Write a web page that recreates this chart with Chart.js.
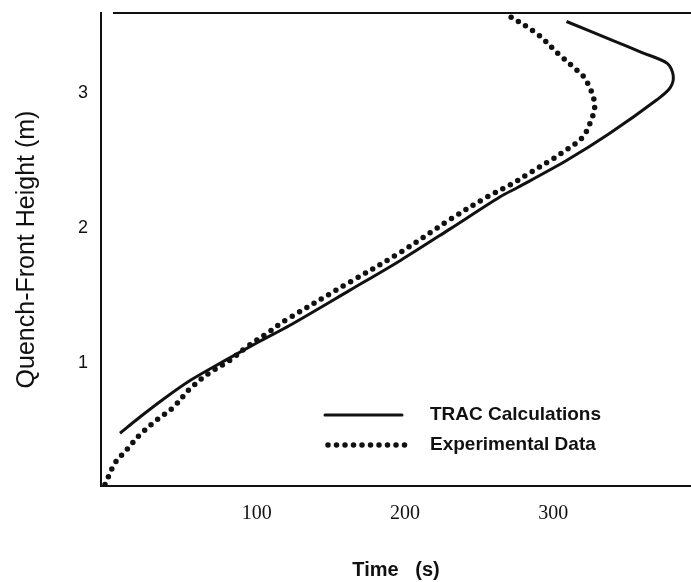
<!DOCTYPE html>
<html>
<head>
<meta charset="utf-8">
<script src="https://cdn.jsdelivr.net/npm/chart.js@4.4.1/dist/chart.umd.min.js"></script>
<style>
  html, body { margin: 0; padding: 0; background: #fff; }
  #wrap { width: 691px; height: 582px; position: relative; }
</style>
</head>
<body>
<div id="wrap"><canvas id="chart"></canvas></div>
<script>
// values (time in s, height in m)
const tracTime = [7.8, 21.3, 36.8, 55.1, 77.3, 100.3, 122.5, 163, 197, 230, 264, 276, 309, 338, 370, 379, 381, 377, 360, 340, 309];
const tracHeight = [0.48, 0.60, 0.73, 0.87, 1.01, 1.15, 1.28, 1.54, 1.76, 1.99, 2.23, 2.30, 2.50, 2.70, 2.95, 3.04, 3.13, 3.22, 3.30, 3.39, 3.53];

const expTime = [-2.3, 1.1, 4.4, 12.5, 21.3, 32.8, 43.6, 55.1, 68.5, 82, 93.5, 107, 120, 163, 197, 230, 255.5, 271, 284.5, 298, 309, 319.6, 325, 328, 322, 316, 304.5, 289, 267.6];
const expHeight = [0.10, 0.185, 0.26, 0.36, 0.47, 0.58, 0.67, 0.81, 0.93, 1.02, 1.12, 1.22, 1.32, 1.60, 1.82, 2.06, 2.23, 2.32, 2.41, 2.50, 2.58, 2.67, 2.78, 2.92, 3.10, 3.17, 3.28, 3.44, 3.59];

const xTicks = [100, 200, 300];
const yTicks = [1, 2, 3];

const seriesLabels = ['TRAC Calculations', 'Experimental Data'];

const toPoints = (xs, ys) => xs.map((x, i) => ({ x: x, y: ys[i] }));

const ink = '#111';
const dotDash = [0, 8.5];

// top rule + legend drawn inside the plot
const extras = {
  id: 'extras',
  afterDraw(chart) {
    const ctx = chart.ctx;
    const area = chart.chartArea;
    ctx.save();
    ctx.strokeStyle = ink;
    ctx.lineWidth = 2;
    ctx.beginPath();
    ctx.moveTo(area.left + 12, area.top);
    ctx.lineTo(area.right, area.top);
    ctx.stroke();

    // legend
    ctx.font = 'bold 19px "Liberation Sans", Arial, sans-serif';
    ctx.fillStyle = ink;
    ctx.textBaseline = 'middle';
    ctx.lineCap = 'round';

    ctx.lineWidth = 3;
    ctx.beginPath();
    ctx.moveTo(325, 415);
    ctx.lineTo(402, 415);
    ctx.stroke();
    ctx.fillText(seriesLabels[0], 430, 415);

    ctx.lineWidth = 5.5;
    ctx.setLineDash(dotDash);
    ctx.beginPath();
    ctx.moveTo(328, 445);
    ctx.lineTo(405, 445);
    ctx.stroke();
    ctx.setLineDash([]);
    ctx.fillText(seriesLabels[1], 430, 445);
    ctx.restore();
  }
};

new Chart(document.getElementById('chart'), {
  type: 'scatter',
  data: {
    datasets: [
      {
        label: seriesLabels[0],
        data: toPoints(tracTime, tracHeight),
        showLine: true,
        borderColor: ink,
        borderWidth: 3,
        pointRadius: 0,
        tension: 0.3,
      },
      {
        label: seriesLabels[1],
        data: toPoints(expTime, expHeight),
        showLine: true,
        borderColor: ink,
        borderWidth: 5.5,
        borderDash: dotDash,
        borderCapStyle: 'round',
        pointRadius: 0,
        tension: 0.35,
      },
    ],
  },
  options: {
    responsive: true,
    maintainAspectRatio: false,
    animation: false,
    layout: { padding: { top: 13, right: 0, left: 0, bottom: 0 } },
    plugins: {
      legend: { display: false },
      tooltip: { enabled: false },
    },
    scales: {
      x: {
        type: 'linear',
        min: -5,
        max: 393,
        afterBuildTicks: (axis) => { axis.ticks = xTicks.map((v) => ({ value: v })); },
        afterFit: (axis) => { axis.height = 96; axis.paddingLeft = 0; axis.paddingRight = 0; },
        grid: { display: false, drawTicks: false },
        border: { display: true, color: ink, width: 2 },
        ticks: {
          color: ink,
          padding: 16,
          font: { family: '"Liberation Serif", "Times New Roman", serif', size: 20 },
        },
        title: {
          display: true,
          text: 'Time   (s)',
          color: ink,
          padding: { top: 0, bottom: 0 },
          font: { family: '"Liberation Sans", Arial, sans-serif', size: 20, weight: 'bold' },
        },
      },
      y: {
        type: 'linear',
        min: 0.089,
        max: 3.593,
        afterBuildTicks: (axis) => { axis.ticks = yTicks.map((v) => ({ value: v })); },
        afterFit: (axis) => { axis.width = 101; axis.paddingTop = 0; axis.paddingBottom = 0; },
        grid: { display: false, drawTicks: false },
        border: { display: true, color: ink, width: 2 },
        ticks: {
          color: ink,
          padding: 13,
          font: { family: '"Liberation Sans", Arial, sans-serif', size: 18 },
        },
        title: {
          display: true,
          text: 'Quench-Front Height (m)',
          color: ink,
          padding: { top: 12, bottom: 0 },
          font: { family: '"Liberation Sans", Arial, sans-serif', size: 25 },
        },
      },
    },
  },
  plugins: [extras],
});
</script>
</body>
</html>
